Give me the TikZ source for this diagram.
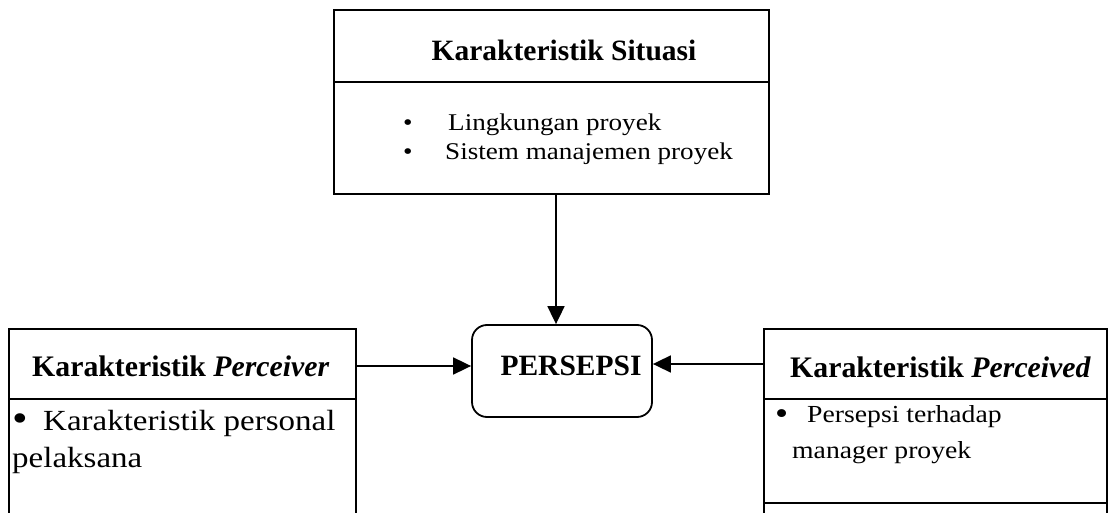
\documentclass[tikz,border=0pt]{standalone}
\usepackage{fontspec}
\usepackage{graphicx}
\setmainfont{Liberation Serif}
\newfontfamily\bodyfont{Liberation Serif}[FakeStretch=1.13]
\usetikzlibrary{arrows.meta,calc}
\newcommand{\bigbul}[1]{\smash{\raisebox{-#1}{\scalebox{1.35}{•}}}}
\tikzset{
  box/.style={draw, line width=1.8pt, inner sep=0pt, anchor=north west},
  pbox/.style={draw, line width=1.8pt, rounded corners=15pt, inner sep=0pt},
  divider/.style={line width=1.8pt},
  arr/.style={line width=1.8pt, -{Triangle[length=18pt,width=17pt]}},
  ttl/.style={font=\fontsize{29.5}{32}\selectfont\bfseries, inner sep=0pt, anchor=base},
  sttl/.style={font=\fontsize{29.8}{32}\selectfont\bfseries, inner sep=0pt, anchor=base west},
  body/.style={inner sep=0pt, align=left, anchor=base west},
}
\begin{document}
\begin{tikzpicture}[x=1pt,y=-1pt]
\useasboundingbox[fill=white] (0,0) rectangle (1108,513);
% boxes
\node[box, minimum width=435pt, minimum height=184pt] (top) at (333,9) {};
\node[box, minimum width=347pt, minimum height=220pt] (left) at (8,328) {};
\node[box, minimum width=343pt, minimum height=220pt] (right) at (763,328) {};
\node[pbox, minimum width=180pt, minimum height=92pt] (pers) at (562,371) {};
% dividers
\coordinate (dt) at (0,82);
\coordinate (ds) at (0,399);
\coordinate (db) at (0,503);
\draw[divider] (top.west |- dt) -- (top.east |- dt);
\draw[divider] (left.west |- ds) -- (left.east |- ds);
\draw[divider] (right.west |- ds) -- (right.east |- ds);
\draw[divider] (right.west |- db) -- (right.east |- db);
% texts (base = baseline of last line)
\node[ttl] (ttop) at (564,61) {Karakteristik Situasi};
\node[body, font=\bodyfont\fontsize{24}{29}\selectfont] (btop) at (403,160)
  {\makebox[45pt][l]{•}Lingkungan proyek\\\makebox[42pt][l]{•}Sistem manajemen proyek};
\node[sttl] (tleft) at (32,376) {Karakteristik \textit{Perceiver}};
\node[body, font=\bodyfont\fontsize{29.2}{37}\selectfont] (bleft) at (12,467)
  {\makebox[31pt][l]{\bigbul{1.5pt}}Karakteristik personal\\pelaksana};
\node[sttl] (tright) at (790,377) {Karakteristik \textit{Perceived}};
\node[body, font=\bodyfont\fontsize{24.5}{36}\selectfont] (bright) at (775,458)
  {\makebox[32pt][l]{\bigbul{2.2pt}}Persepsi terhadap\\\hspace{17pt}manager proyek};
\node[ttl] (tpers) at (571,375) {PERSEPSI};
% connectors
\coordinate (ax) at (556,0);
\coordinate (ly) at (0,366);
\coordinate (ry) at (0,364);
\draw[arr] (top.south -| ax) -- (pers.north -| ax);
\draw[arr] (left.east |- ly) -- (pers.west |- ly);
\draw[arr] (right.west |- ry) -- (pers.east |- ry);
\end{tikzpicture}
\end{document}
